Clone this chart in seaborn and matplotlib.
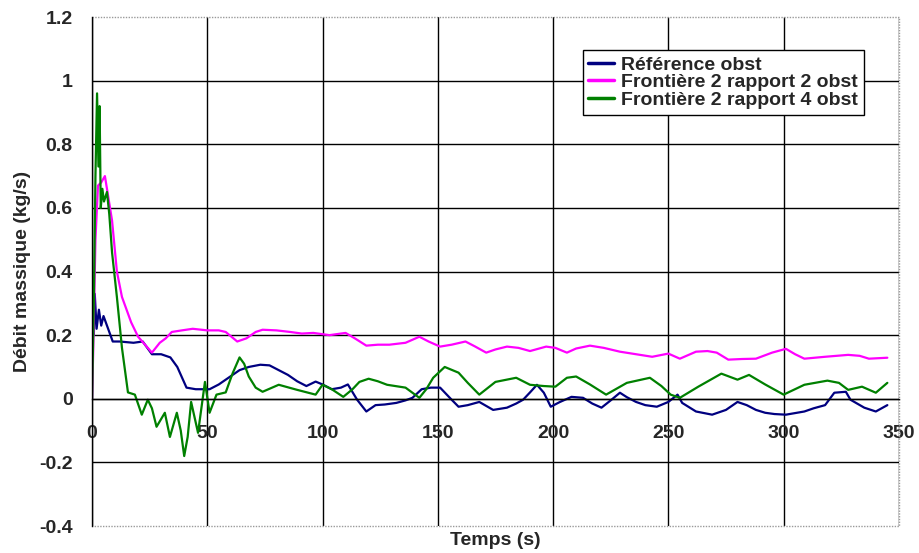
import pandas as pd
import matplotlib
matplotlib.use("Agg")
import matplotlib.pyplot as plt
from matplotlib.ticker import FuncFormatter, MultipleLocator
import seaborn as sns

# Data (time in s, mass flow in kg/s)
ref_t = [0, 0.3, 0.8, 1.2, 2, 3, 4, 5, 6, 8, 9, 12, 18, 22, 26, 30, 34, 37, 41, 45,
         51, 55, 60, 64, 68, 73, 77, 81, 85, 89, 93, 97, 100, 104, 108, 111, 115, 119,
         123, 127, 132, 136, 139, 143, 147, 151, 156, 159, 163, 168, 174, 180, 184,
         187, 190, 193, 196, 199, 203, 208, 213, 217, 221, 225, 229, 232, 236, 240,
         245, 250, 254, 256, 262, 269, 275, 280, 284, 288, 292, 296, 301, 305, 309,
         313, 318, 322, 327, 329, 335, 340, 345]
ref_v = [0, 0.37, 0.2, 0.33, 0.22, 0.28, 0.23, 0.26, 0.24, 0.2, 0.18, 0.18, 0.176, 0.18,
         0.14, 0.14, 0.13, 0.1, 0.035, 0.03, 0.03, 0.045, 0.07, 0.09, 0.1, 0.107, 0.105,
         0.09, 0.075, 0.055, 0.04, 0.054, 0.045, 0.03, 0.035, 0.045, -0.003, -0.04, -0.02,
         -0.018, -0.013, -0.005, 0.003, 0.03, 0.035, 0.035, -0.003, -0.025, -0.02, -0.01,
         -0.035, -0.028, -0.015, -0.003, 0.02, 0.044, 0.019, -0.025, -0.01, 0.006, 0.003,
         -0.015, -0.028, -0.005, 0.019, 0.005, -0.01, -0.02, -0.025, -0.01, 0.013, -0.013,
         -0.04, -0.05, -0.035, -0.01, -0.02, -0.035, -0.044, -0.048, -0.05, -0.045, -0.04,
         -0.03, -0.02, 0.019, 0.022, -0.003, -0.028, -0.04, -0.02]

r2_t = [0, 0.5, 1.5, 2.6, 4, 5.6, 6.5, 8.7, 10.8, 13, 15, 17, 20, 23, 26, 29.4, 32, 34.6,
        39, 43.7, 50, 55, 58, 63, 67, 71, 74, 80, 86, 91, 96, 103, 110, 114, 119, 124,
        129, 136, 142, 146, 151, 156, 162, 166, 171, 175, 180, 185, 190, 197, 201, 206,
        210, 216, 222, 229, 236, 243, 250, 255, 262, 267, 271, 276, 282, 288, 295, 301,
        305, 309, 318, 328, 333, 337, 345]
r2_v = [0, 0.14, 0.5, 0.67, 0.68, 0.70, 0.66, 0.56, 0.40, 0.32, 0.28, 0.24, 0.195, 0.17,
        0.145, 0.176, 0.19, 0.21, 0.215, 0.22, 0.215, 0.215, 0.21, 0.18, 0.19, 0.21, 0.217,
        0.215, 0.21, 0.205, 0.207, 0.2, 0.207, 0.19, 0.167, 0.17, 0.17, 0.176, 0.195, 0.18,
        0.164, 0.17, 0.18, 0.165, 0.145, 0.155, 0.164, 0.16, 0.15, 0.164, 0.16, 0.145,
        0.158, 0.167, 0.16, 0.148, 0.14, 0.132, 0.142, 0.126, 0.148, 0.15, 0.145, 0.123,
        0.125, 0.126, 0.145, 0.157, 0.14, 0.126, 0.132, 0.138, 0.135, 0.126, 0.129]

r4_t = [0, 0.8, 1.5, 2.2, 2.8, 3.3, 3.8, 4.5, 5.2, 6.5, 7.5, 8.7, 10.8, 13, 15.6, 18.6,
        21.6, 24.2, 26, 28, 31.6, 33.8, 36.8, 38.5, 40, 41.5, 43, 46, 49, 51, 54, 58, 61,
        64, 66, 68, 71, 74, 81, 89, 97, 100, 104, 109, 113, 116, 120, 124, 128, 136, 142,
        145, 148, 153, 159, 163, 168, 175, 184, 190, 196, 201, 206, 210, 216, 223, 232,
        242, 247, 251, 255, 263, 273, 280, 285, 292, 300, 309, 319, 324, 328, 334, 340, 345]
r4_v = [0, 0.3, 0.7, 0.96, 0.73, 0.92, 0.6, 0.66, 0.62, 0.65, 0.58, 0.46, 0.32, 0.16, 0.02,
        0.013, -0.05, -0.003, -0.03, -0.088, -0.044, -0.12, -0.044, -0.1, -0.18, -0.12,
        -0.01, -0.107, 0.053, -0.044, 0.013, 0.02, 0.08, 0.13, 0.11, 0.07, 0.035, 0.022,
        0.044, 0.028, 0.013, 0.044, 0.03, 0.006, 0.03, 0.053, 0.063, 0.055, 0.044, 0.035,
        0.003, 0.03, 0.066, 0.10, 0.082, 0.05, 0.013, 0.053, 0.066, 0.044, 0.04, 0.038,
        0.066, 0.07, 0.045, 0.013, 0.05, 0.066, 0.04, 0.013, 0.003, 0.038, 0.079, 0.06,
        0.075, 0.045, 0.013, 0.044, 0.057, 0.05, 0.028, 0.038, 0.019, 0.05]

labels = ["Référence obst", "Frontière 2 rapport 2 obst", "Frontière 2 rapport 4 obst"]
colors = ["#000080", "#FF00FF", "#008000"]

df = pd.concat([
    pd.DataFrame({"t": ref_t, "v": ref_v, "serie": labels[0]}),
    pd.DataFrame({"t": r2_t, "v": r2_v, "serie": labels[1]}),
    pd.DataFrame({"t": r4_t, "v": r4_v, "serie": labels[2]}),
], ignore_index=True)

sns.set_style("white")
plt.rcParams["font.family"] = ["Liberation Sans", "DejaVu Sans"]
plt.rcParams["font.weight"] = "bold"

fig = plt.figure(figsize=(9.19, 5.53), dpi=100)
ax = fig.add_axes([0.1001, 0.0488, 0.878, 0.9204])

sns.lineplot(data=df, x="t", y="v", hue="serie", palette=colors, hue_order=labels,
             estimator=None, sort=False, linewidth=1.6, ax=ax)

ax.set_xlim(0, 350)
ax.set_ylim(-0.4, 1.2)
ax.xaxis.set_major_locator(MultipleLocator(50))
ax.yaxis.set_major_locator(MultipleLocator(0.2))
ax.yaxis.set_major_formatter(FuncFormatter(lambda v, p: "%g" % round(v, 2)))

# black grid, grey plot-area border at the outer edges
ax.grid(True, color="black", linewidth=1)
ax.set_axisbelow(True)
fig.canvas.draw()
for tk in ax.yaxis.get_major_ticks():
    if abs(tk.get_loc() - 1.2) < 1e-6 or abs(tk.get_loc() + 0.4) < 1e-6:
        tk.gridline.set_visible(False)
for tk in ax.xaxis.get_major_ticks():
    if abs(tk.get_loc() - 350) < 1e-6:
        tk.gridline.set_visible(False)

ax.spines["bottom"].set_position(("data", 0))
ax.spines["bottom"].set_color("black")
ax.spines["left"].set_color("black")
for s in ["left", "bottom"]:
    ax.spines[s].set_linewidth(1)
ax.plot([0, 1, 1, 0], [1, 1, 0, 0], transform=ax.transAxes, color="#9a9a9a",
        linewidth=1, linestyle=(0, (1, 1)), clip_on=False)
ax.spines["top"].set_visible(False)
ax.spines["right"].set_visible(False)

ax.tick_params(axis="y", direction="out", length=6, width=1, labelsize=14, pad=8)
ax.tick_params(axis="x", direction="inout", length=8, width=1, labelsize=14, pad=15)

ax.set_xlabel("Temps (s)", fontsize=14, fontweight="bold")
ax.xaxis.set_label_coords(0.5, -0.012)
ax.set_ylabel("Débit massique (kg/s)", fontsize=14, fontweight="bold")
ax.yaxis.set_label_coords(-0.076, 0.5)

leg = ax.legend(loc="upper left", bbox_to_anchor=(0.608, 0.935), fontsize=14,
                frameon=True, fancybox=False, edgecolor="black", framealpha=1,
                handlelength=1.3, labelspacing=0.0, borderpad=0.3, handletextpad=0.4,
                borderaxespad=0)
leg.get_frame().set_linewidth(1)
for h in leg.get_lines():
    h.set_linewidth(2.5)

fig.savefig("out.png", dpi=100)
